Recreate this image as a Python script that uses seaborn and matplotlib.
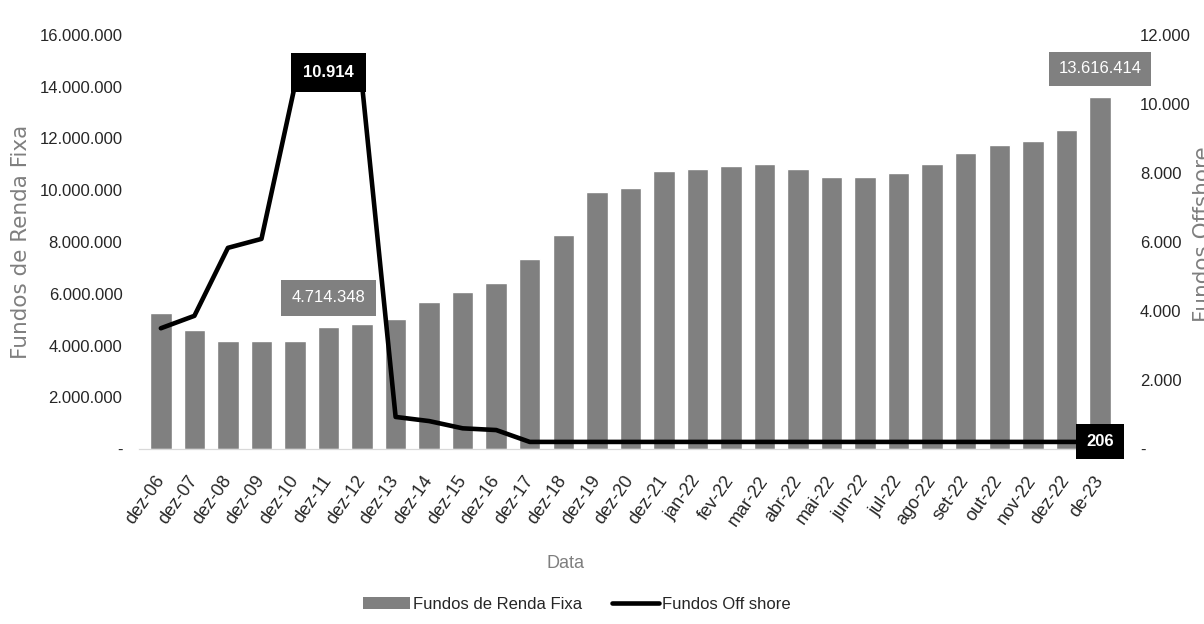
import matplotlib
matplotlib.use("Agg")
import matplotlib.pyplot as plt
import matplotlib.ticker as mticker
import matplotlib.transforms as mtransforms
from matplotlib.patches import Patch
from matplotlib.lines import Line2D
import numpy as np
import pandas as pd
import seaborn as sns

datas = ["dez-06", "dez-07", "dez-08", "dez-09", "dez-10", "dez-11", "dez-12",
         "dez-13", "dez-14", "dez-15", "dez-16", "dez-17", "dez-18", "dez-19",
         "dez-20", "dez-21", "jan-22", "fev-22", "mar-22", "abr-22", "mai-22",
         "jun-22", "jul-22", "ago-22", "set-22", "out-22", "nov-22", "dez-22", "de-23"]

renda_fixa = [5260000, 4600000, 4170000, 4170000, 4170000, 4714348, 4830000,
              5020000, 5680000, 6070000, 6420000, 7340000, 8270000, 9930000,
              10090000, 10740000, 10820000, 10940000, 11010000, 10820000, 10510000,
              10510000, 10670000, 11010000, 11440000, 11750000, 11900000, 12330000, 13616414]

offshore = [3500, 3860, 5830, 6090, 10550, 10914, 10550,
            930, 810, 600, 550, 206, 206, 206,
            206, 206, 206, 206, 206, 206, 206,
            206, 206, 206, 206, 206, 206, 206, 206]

df = pd.DataFrame({"Data": datas, "Renda Fixa": renda_fixa, "Offshore": offshore})
df["pos"] = np.arange(len(df))

sns.set_style("white")
plt.rcParams["font.family"] = ["Liberation Sans", "DejaVu Sans"]

BAR_GRAY = "#808080"
TXT = "#262626"
LBL = "#7f7f7f"

fig = plt.figure(figsize=(12.04, 6.24), dpi=100)
ax = fig.add_axes([0.1155, 0.2804, 0.8175, 0.6636])

sns.barplot(data=df, x="Data", y="Renda Fixa", color=BAR_GRAY, saturation=1,
            width=0.64, ax=ax, zorder=1)
ax2 = ax.twinx()
sns.lineplot(data=df, x="pos", y="Offshore", color="black", linewidth=3.3,
             ax=ax2, zorder=3)

ax.set_ylim(0, 16000000)
ax2.set_ylim(0, 12000)
ax.set_xlim(-0.65, 28.7)
ax.yaxis.set_major_locator(mticker.MultipleLocator(2000000))
ax2.yaxis.set_major_locator(mticker.MultipleLocator(2000))


def fmt(v, _):
    if v == 0:
        return "-"
    return f"{v:,.0f}".replace(",", ".")


ax.yaxis.set_major_formatter(mticker.FuncFormatter(fmt))
ax2.yaxis.set_major_formatter(mticker.FuncFormatter(fmt))

for a in (ax, ax2):
    for s in ("top", "left", "right"):
        a.spines[s].set_visible(False)
    a.spines["bottom"].set_color("#d9d9d9")
    a.tick_params(length=0, colors=TXT, labelsize=12)
ax.tick_params(axis="y", pad=12)
ax2.tick_params(axis="y", pad=12)

ax.set_xticks(df["pos"])
ax.set_xticklabels(datas, rotation=55, ha="right", rotation_mode="anchor")
ax.tick_params(axis="x", pad=17, labelsize=13)
shift = mtransforms.ScaledTranslation(-7 / 100, 0, fig.dpi_scale_trans)
for lab in ax.get_xticklabels():
    lab.set_transform(lab.get_transform() + shift)

ax.set_xlabel("Data", color=LBL, fontsize=13)
ax.xaxis.set_label_coords(0.433, -0.256)
ax.set_ylabel("Fundos de Renda Fixa", color=LBL, fontsize=15.5,
              family="DejaVu Sans")
ax.yaxis.set_label_coords(-0.11, 0.5)
ax2.set_ylabel("Fundos Offshore", color=LBL, fontsize=15.5,
               family="DejaVu Sans")
ax2.yaxis.set_label_coords(1.071, 0.52)

# rótulos de dados
ax.annotate("4.714.348", (5, renda_fixa[5]), xytext=(0, 21), textcoords="offset points",
            ha="center", va="center", color="white", fontsize=12, zorder=5,
            bbox=dict(boxstyle="square,pad=0.65", fc=BAR_GRAY, ec="none"))
ax2.annotate("13.616.414", (28, renda_fixa[28] * 12000 / 16000000), xytext=(0, 20),
             textcoords="offset points", ha="center", va="center", color="white",
             fontsize=12, zorder=5,
             bbox=dict(boxstyle="square,pad=0.55", fc=BAR_GRAY, ec="none"))
ax2.annotate("10.914", (5, offshore[5]), ha="center", va="center", color="white",
             fontsize=12, fontweight="bold", zorder=5,
             bbox=dict(boxstyle="square,pad=0.7", fc="black", ec="none"))
ax2.annotate("206", (28, offshore[28]), ha="center", va="center", color="white",
             fontsize=12, fontweight="bold", zorder=5,
             bbox=dict(boxstyle="square,pad=0.6", fc="black", ec="none"))

handles = [Patch(facecolor=BAR_GRAY, edgecolor="none"),
           Line2D([0], [0], color="black", linewidth=3.3)]
fig.legend(handles, ["Fundos de Renda Fixa", "Fundos Off shore"], loc="center",
           bbox_to_anchor=(0.479, 0.031), ncol=2, frameon=False, fontsize=12,
           handlelength=2.8, handletextpad=0.2, columnspacing=1.8,
           labelcolor=TXT)

fig.savefig("out.png", dpi=100)
